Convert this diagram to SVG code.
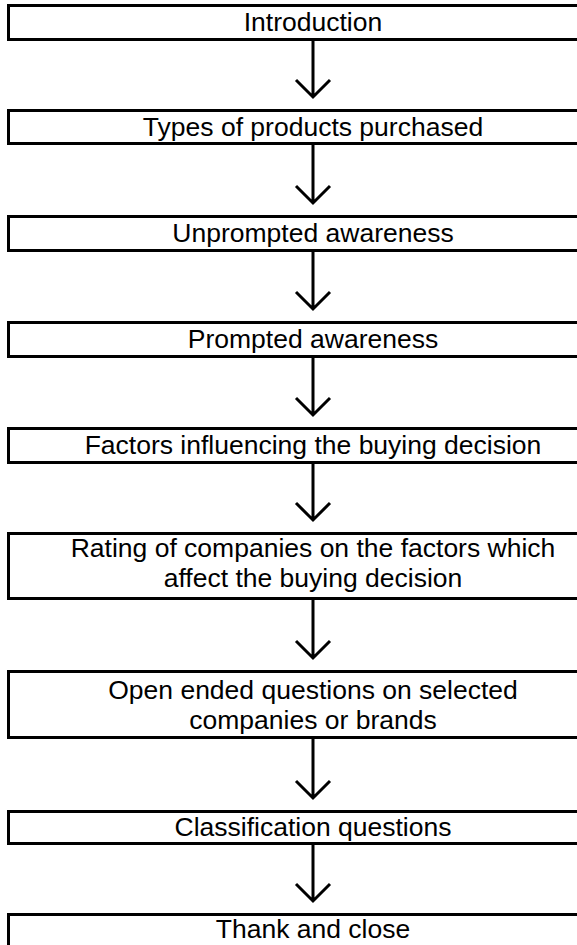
<svg xmlns="http://www.w3.org/2000/svg" width="577" height="945" viewBox="0 0 577 945">
  <defs>
    <style>
      .box { fill: #ffffff; stroke: #000000; stroke-width: 3; }
      .lbl { font-family: "Liberation Sans", Arial, Helvetica, sans-serif; font-size: 26.5px; fill: #000000; text-anchor: middle; }
      .edge { fill: none; stroke: #000000; stroke-width: 3; }
    </style>
  </defs>

  <!-- straight down-arrows with open V heads -->
  <g id="connectors">
    <path class="edge" d="M313,41 V97 M296,80 L313,97 L330,80"/>
    <path class="edge" d="M313,145 V203 M296,186 L313,203 L330,186"/>
    <path class="edge" d="M313,252 V309 M296,292 L313,309 L330,292"/>
    <path class="edge" d="M313,358 V415 M296,398 L313,415 L330,398"/>
    <path class="edge" d="M313,464 V520 M296,503 L313,520 L330,503"/>
    <path class="edge" d="M313,600 V658 M296,641 L313,658 L330,641"/>
    <path class="edge" d="M313,739 V798 M296,781 L313,798 L330,781"/>
    <path class="edge" d="M313,845 V901 M296,884 L313,901 L330,884"/>
  </g>

  <g id="introduction">
    <rect class="box" x="8.5" y="5.5" width="620" height="34"/>
    <text class="lbl" x="313" y="31">Introduction</text>
  </g>
  <g id="products">
    <rect class="box" x="8.5" y="110.5" width="620" height="33"/>
    <text class="lbl" x="313" y="136">Types of products purchased</text>
  </g>
  <g id="unprompted">
    <rect class="box" x="8.5" y="216.5" width="620" height="34"/>
    <text class="lbl" x="313" y="242">Unprompted awareness</text>
  </g>
  <g id="prompted">
    <rect class="box" x="8.5" y="322.5" width="620" height="34"/>
    <text class="lbl" x="313" y="348">Prompted awareness</text>
  </g>
  <g id="factors">
    <rect class="box" x="8.5" y="428.5" width="620" height="34"/>
    <text class="lbl" x="313" y="454">Factors influencing the buying decision</text>
  </g>
  <g id="rating">
    <rect class="box" x="8.5" y="533.5" width="620" height="65"/>
    <text class="lbl" x="313" y="557">Rating of companies on the factors which</text>
    <text class="lbl" x="313" y="587">affect the buying decision</text>
  </g>
  <g id="open-ended">
    <rect class="box" x="8.5" y="671.5" width="620" height="66"/>
    <text class="lbl" x="313" y="699">Open ended questions on selected</text>
    <text class="lbl" x="313" y="729">companies or brands</text>
  </g>
  <g id="classification">
    <rect class="box" x="8.5" y="811.5" width="620" height="32"/>
    <text class="lbl" x="313" y="836">Classification questions</text>
  </g>
  <g id="thank-close">
    <rect class="box" x="8.5" y="914.5" width="620" height="60"/>
    <text class="lbl" x="313" y="938">Thank and close</text>
  </g>
</svg>
